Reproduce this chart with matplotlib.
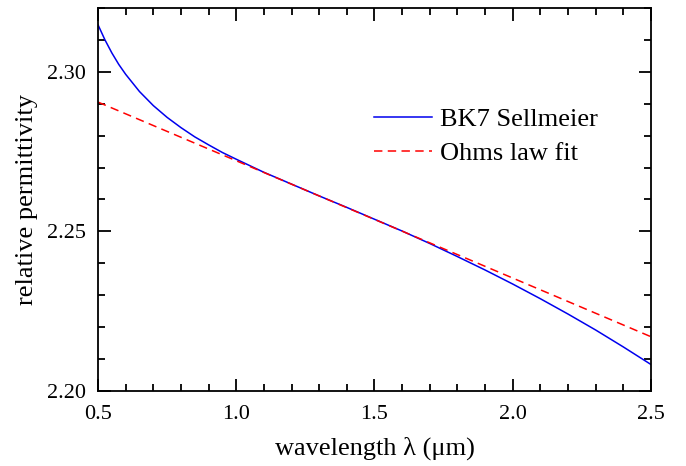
import matplotlib
matplotlib.use("Agg")
import matplotlib.pyplot as plt
from matplotlib.ticker import MultipleLocator, FuncFormatter

plt.rcParams['font.family'] = ['Liberation Serif', 'DejaVu Serif']

# BK7 Sellmeier curve
wavelength = [0.500, 0.525, 0.550, 0.575, 0.600, 0.650, 0.700, 0.750, 0.800,
              0.850, 0.900, 0.950, 1.00, 1.10, 1.20, 1.30, 1.40, 1.50, 1.60,
              1.70, 1.80, 1.90, 2.00, 2.10, 2.20, 2.30, 2.40, 2.50]
permittivity = [2.3147, 2.3100, 2.3059, 2.3023, 2.2992, 2.2938, 2.2894, 2.2857,
                2.2825, 2.2796, 2.2771, 2.2747, 2.2726, 2.2685, 2.2648, 2.2611,
                2.2575, 2.2538, 2.2501, 2.2462, 2.2421, 2.2379, 2.2335, 2.2289,
                2.2241, 2.2191, 2.2138, 2.2083]

# Linear fit (straight line)
fit_wavelength = [0.5, 2.5]
fit_permittivity = [2.2905, 2.2170]

fig = plt.figure(figsize=(6.86, 4.66), dpi=100)
ax = fig.add_axes([0.1429, 0.161, 0.806, 0.822])

ax.plot(wavelength, permittivity, color='#0000ee', lw=1.1, label='BK7 Sellmeier')
ax.plot(fit_wavelength, fit_permittivity, color='#ff0000', lw=1.1,
        ls=(0, (5.5, 3.5)), label='Ohms law fit')

ax.set_xlim(0.5, 2.5)
ax.set_ylim(2.20, 2.32)
ax.xaxis.set_major_locator(MultipleLocator(0.5))
ax.xaxis.set_minor_locator(MultipleLocator(0.1))
ax.yaxis.set_major_locator(MultipleLocator(0.05))
ax.yaxis.set_minor_locator(MultipleLocator(0.01))
ax.xaxis.set_major_formatter(FuncFormatter(lambda v, p: f"{v:.1f}"))
ax.yaxis.set_major_formatter(FuncFormatter(lambda v, p: f"{v:.2f}"))

ax.tick_params(which='both', direction='in', top=True, right=True, width=1.3,
               labelsize=16)
ax.tick_params(axis='x', which='major', pad=10)
ax.tick_params(axis='y', which='major', pad=9)
ax.tick_params(which='major', length=9)
ax.tick_params(which='minor', length=5)
for s in ax.spines.values():
    s.set_linewidth(1.3)

ax.set_xlabel('wavelength λ (μm)', fontsize=19, labelpad=9)
ax.set_ylabel('relative permittivity', fontsize=19, labelpad=6)

ax.legend(loc='upper left', bbox_to_anchor=(0.499, 0.739), frameon=False,
          fontsize=19, handlelength=2.2, handletextpad=0.3, labelspacing=0.38,
          borderaxespad=0, borderpad=0)

fig.savefig('out.png', dpi=100)
